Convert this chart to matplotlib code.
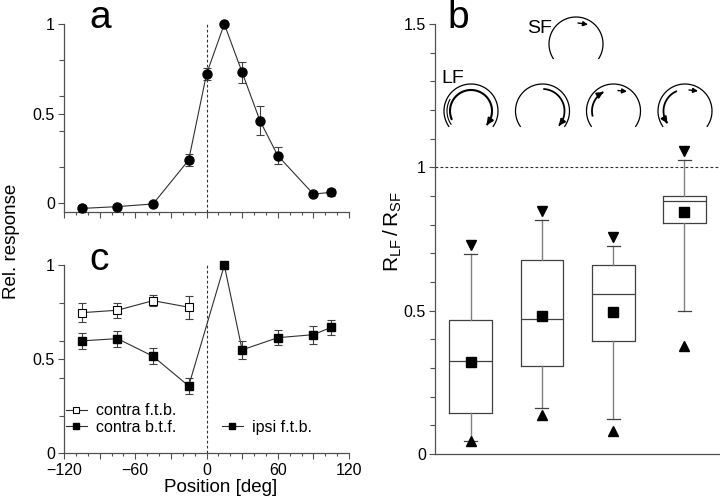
import numpy as np
import matplotlib
matplotlib.use("Agg")
import matplotlib.pyplot as plt
from matplotlib.ticker import MultipleLocator, FixedLocator, FuncFormatter
from matplotlib.lines import Line2D

plt.rcParams['font.family'] = ['Liberation Sans', 'DejaVu Sans']

# ---------------- data ----------------
pos_a = [-105, -75, -45, -15, 0, 15, 30, 45, 60, 90, 105]
resp_a = [-0.03, -0.02, -0.005, 0.24, 0.72, 1.0, 0.73, 0.46, 0.265, 0.05, 0.06]
err_a = [0.02, 0.015, 0.01, 0.032, 0.032, 0.0, 0.057, 0.08, 0.047, 0.012, 0.02]

pos_contra = [-105, -75, -45, -15]
contra_ftb = [0.748, 0.761, 0.812, 0.777]
contra_ftb_err = [0.049, 0.04, 0.031, 0.06]
contra_btf = [0.598, 0.61, 0.516, 0.358]
contra_btf_err = [0.042, 0.043, 0.042, 0.044]
pos_ipsi = [15, 30, 60, 90, 105]
ipsi_ftb = [1.0, 0.55, 0.615, 0.631, 0.67]
ipsi_ftb_err = [0.0, 0.049, 0.04, 0.047, 0.04]

box_q1 = [0.143, 0.308, 0.394, 0.805]
box_q3 = [0.467, 0.676, 0.658, 0.901]
box_med = [0.323, 0.470, 0.558, 0.881]
box_mean = [0.321, 0.480, 0.496, 0.843]
box_whislo = [0.045, 0.162, 0.121, 0.498]
box_whishi = [0.696, 0.816, 0.726, 1.026]
box_min = [0.044, 0.136, 0.081, 0.376]
box_max = [0.728, 0.849, 0.756, 1.057]

legend_labels = ['contra f.t.b.', 'contra b.t.f.', 'ipsi f.t.b.']

# ---------------- figure ----------------
W, H = 720, 501
fig = plt.figure(figsize=(7.2, 5.01), dpi=100)

def px_axes(x0, y_top, x1, y_bot):
    return fig.add_axes([x0 / W, (H - y_bot) / H, (x1 - x0) / W, (y_bot - y_top) / H])

spine_col = '#505050'
line_col = '#303030'

def style_axes(ax):
    for s in ['top', 'right']:
        ax.spines[s].set_visible(False)
    for s in ['left', 'bottom']:
        ax.spines[s].set_color(spine_col)
        ax.spines[s].set_linewidth(0.9)
    ax.tick_params(which='both', direction='out', color=spine_col, width=0.8,
                   labelsize=11.5, pad=2.5)
    ax.tick_params(which='major', length=4)
    ax.tick_params(which='minor', length=3.5)

fmt = FuncFormatter(lambda v, p: '%g' % v)

# ---- panel a ----
ax_a = px_axes(64, 24, 349, 212)
style_axes(ax_a)
ax_a.set_xlim(-120, 120)
ax_a.set_ylim(-0.05, 1.0)
ax_a.axvline(0, color='#303030', ls=(0, (2.5, 2)), lw=0.8)
ax_a.errorbar(pos_a, resp_a, yerr=err_a, fmt='-o', color=line_col, lw=0.8,
              ms=6.5, mfc='black', mec='black', ecolor='#404040', elinewidth=0.8,
              capsize=2.8, capthick=0.8, clip_on=False, zorder=3)
ax_a.xaxis.set_major_locator(MultipleLocator(30))
ax_a.xaxis.set_minor_locator(MultipleLocator(10))
ax_a.tick_params(axis='x', which='minor', length=2.5)
ax_a.set_xticklabels([])
ax_a.yaxis.set_major_locator(FixedLocator([0, 0.5, 1]))
ax_a.yaxis.set_minor_locator(FixedLocator([0.2, 0.4, 0.6, 0.8]))
ax_a.yaxis.set_major_formatter(fmt)

# ---- panel c ----
ax_c = px_axes(64, 265.3, 349, 453.3)
style_axes(ax_c)
ax_c.set_xlim(-120, 120)
ax_c.set_ylim(0, 1.0)
ax_c.axvline(0, color='#303030', ls=(0, (2.5, 2)), lw=0.8)
# connecting line through the closed-square series
ax_c.plot(pos_contra + pos_ipsi, contra_btf + ipsi_ftb, '-', color=line_col, lw=0.8, zorder=2)
ax_c.errorbar(pos_contra, contra_ftb, yerr=contra_ftb_err, fmt='-s', color=line_col, lw=0.8,
              ms=5.5, mfc='white', mec='black', mew=0.8, ecolor='#404040', elinewidth=0.8,
              capsize=2.8, capthick=0.8, zorder=3)
ax_c.errorbar(pos_contra, contra_btf, yerr=contra_btf_err, fmt='s', color=line_col,
              ms=5.5, mfc='black', mec='black', ecolor='#404040', elinewidth=0.8,
              capsize=2.8, capthick=0.8, zorder=3)
ax_c.errorbar(pos_ipsi, ipsi_ftb, yerr=ipsi_ftb_err, fmt='s', color=line_col,
              ms=5.5, mfc='black', mec='black', ecolor='#404040', elinewidth=0.8,
              capsize=2.8, capthick=0.8, zorder=3, clip_on=False)
ax_c.xaxis.set_major_locator(MultipleLocator(30))
ax_c.xaxis.set_minor_locator(MultipleLocator(10))
ax_c.tick_params(axis='x', which='minor', length=2.5)
ax_c.xaxis.set_major_formatter(FuncFormatter(lambda v, p: ('%g' % v).replace('-', '\u2212') if v % 60 == 0 else ''))
ax_c.tick_params(axis='x', labelsize=11.5, pad=3)
ax_c.yaxis.set_major_locator(FixedLocator([0, 0.5, 1]))
ax_c.yaxis.set_minor_locator(FixedLocator([0.2, 0.4, 0.6, 0.8]))
ax_c.yaxis.set_major_formatter(fmt)
ax_c.set_xlabel('Position [deg]', fontsize=13.5)
ax_c.xaxis.set_label_coords(0.551, -0.135)

h_open = Line2D([], [], ls='-', color=line_col, lw=0.8, marker='s', ms=5, mfc='white', mec='black', mew=0.8)
h_fill = Line2D([], [], ls='-', color=line_col, lw=0.8, marker='s', ms=5, mfc='black', mec='black')
leg1 = ax_c.legend([h_open, h_fill], legend_labels[:2], loc='center left',
                   bbox_to_anchor=(66 / W, (H - 419) / H), bbox_transform=fig.transFigure,
                   frameon=False, fontsize=11.5, handlelength=1.3, handletextpad=0.6,
                   borderpad=0, borderaxespad=0, labelspacing=0.1)
ax_c.add_artist(leg1)
ax_c.legend([h_fill], legend_labels[2:], loc='center left',
            bbox_to_anchor=(222 / W, (H - 427.3) / H), bbox_transform=fig.transFigure,
            frameon=False, fontsize=11.5, handlelength=1.3, handletextpad=0.6,
            borderpad=0, borderaxespad=0)

fig.text(12 / W, (H - 241) / H, 'Rel. response', rotation=90, ha='center', va='center', fontsize=13.5)

# ---- panel b ----
ax_b = px_axes(435, 24, 720, 454)
style_axes(ax_b)
stats = []
for i in range(4):
    stats.append(dict(q1=box_q1[i], q3=box_q3[i], med=box_med[i], mean=box_mean[i],
                      whislo=box_whislo[i], whishi=box_whishi[i], fliers=[]))
positions = np.arange(1, 5)
ax_b.bxp(stats, positions=positions, widths=0.6, capwidths=0.18, showmeans=True,
         manage_ticks=False,
         boxprops=dict(color='#404040', lw=0.9),
         medianprops=dict(color='#404040', lw=0.9),
         whiskerprops=dict(color='#808080', lw=1.0),
         capprops=dict(color='#404040', lw=0.9),
         meanprops=dict(marker='s', markerfacecolor='black', markeredgecolor='black', markersize=7))
ax_b.plot(positions, box_max, 'v', color='black', ms=7.5, ls='none', zorder=4)
ax_b.plot(positions, box_min, '^', color='black', ms=7.5, ls='none', zorder=4)
ax_b.set_xlim(0.5, 4.5)
ax_b.set_ylim(0, 1.5)
ax_b.set_xticks([])
ax_b.yaxis.set_major_locator(FixedLocator([0, 0.5, 1, 1.5]))
ax_b.yaxis.set_minor_locator(MultipleLocator(0.1))
ax_b.yaxis.set_major_formatter(fmt)
ax_b.axhline(1, color='#303030', ls=(0, (2.5, 2)), lw=0.8)

fig.text(393 / W, (H - 232) / H, r'$\mathregular{R_{LF}\,/\,R_{SF}}$', rotation=90,
         ha='center', va='center', fontsize=15)

# panel letters
fig.text(89 / W, (H - 28) / H, 'a', fontsize=28, va='baseline', ha='left')
fig.text(89 / W, (H - 270) / H, 'c', fontsize=28, va='baseline', ha='left')
fig.text(447 / W, (H - 28) / H, 'b', fontsize=28, va='baseline', ha='left')

# ---- stimulus icons (overlay in pixel coordinates) ----
ov = fig.add_axes([0, 0, 1, 1], facecolor='none')
ov.set_xlim(0, W)
ov.set_ylim(H, 0)
ov.axis('off')

def arc(cx, cy, r, t1, t2, lw=0.9, arrow=False):
    t = np.radians(np.linspace(t1, t2, 80))
    xs = cx + r * np.cos(t)
    ys = cy - r * np.sin(t)
    ov.plot(xs, ys, color='black', lw=lw, solid_capstyle='butt')
    if arrow:
        ov.annotate('', xy=(xs[-1], ys[-1]), xytext=(xs[-6], ys[-6]),
                    arrowprops=dict(arrowstyle='-|>', color='black', lw=lw,
                                    mutation_scale=9, shrinkA=0, shrinkB=0))

def small_arrow(x0, y0, x1, y1):
    ov.annotate('', xy=(x1, y1), xytext=(x0, y0),
                arrowprops=dict(arrowstyle='-|>', color='black', lw=1.0,
                                mutation_scale=7, shrinkA=0, shrinkB=0))

R0 = 27
# SF
arc(576, 44, R0, -34, 214)
small_arrow(578, 23, 588, 24.5)
fig.text(527 / W, (H - 33) / H, 'SF', fontsize=14, va='baseline', ha='left')
fig.text(441 / W, (H - 83) / H, 'LF', fontsize=14, va='baseline', ha='left')
# LF1
arc(471, 111, R0, -36, 216)
arc(471, 111, 24, 215, 150, lw=0.8)
arc(471, 111, 21, 205, -42, lw=1.5, arrow=True)
# LF2
arc(542.5, 111, R0, -36, 216)
arc(542.5, 111, 22, 88, -42, lw=1.3, arrow=True)
# LF3
arc(613.5, 111, R0, -36, 216)
arc(613.5, 111, 21.5, 195, 118, lw=1.3, arrow=True)
small_arrow(618, 90.5, 627, 91.5)
# LF4
arc(685, 111, R0, -36, 216)
arc(685, 111, 21.5, 112, 215, lw=1.3, arrow=True)
small_arrow(689, 90, 698, 91)

fig.savefig('out.png', dpi=100)
